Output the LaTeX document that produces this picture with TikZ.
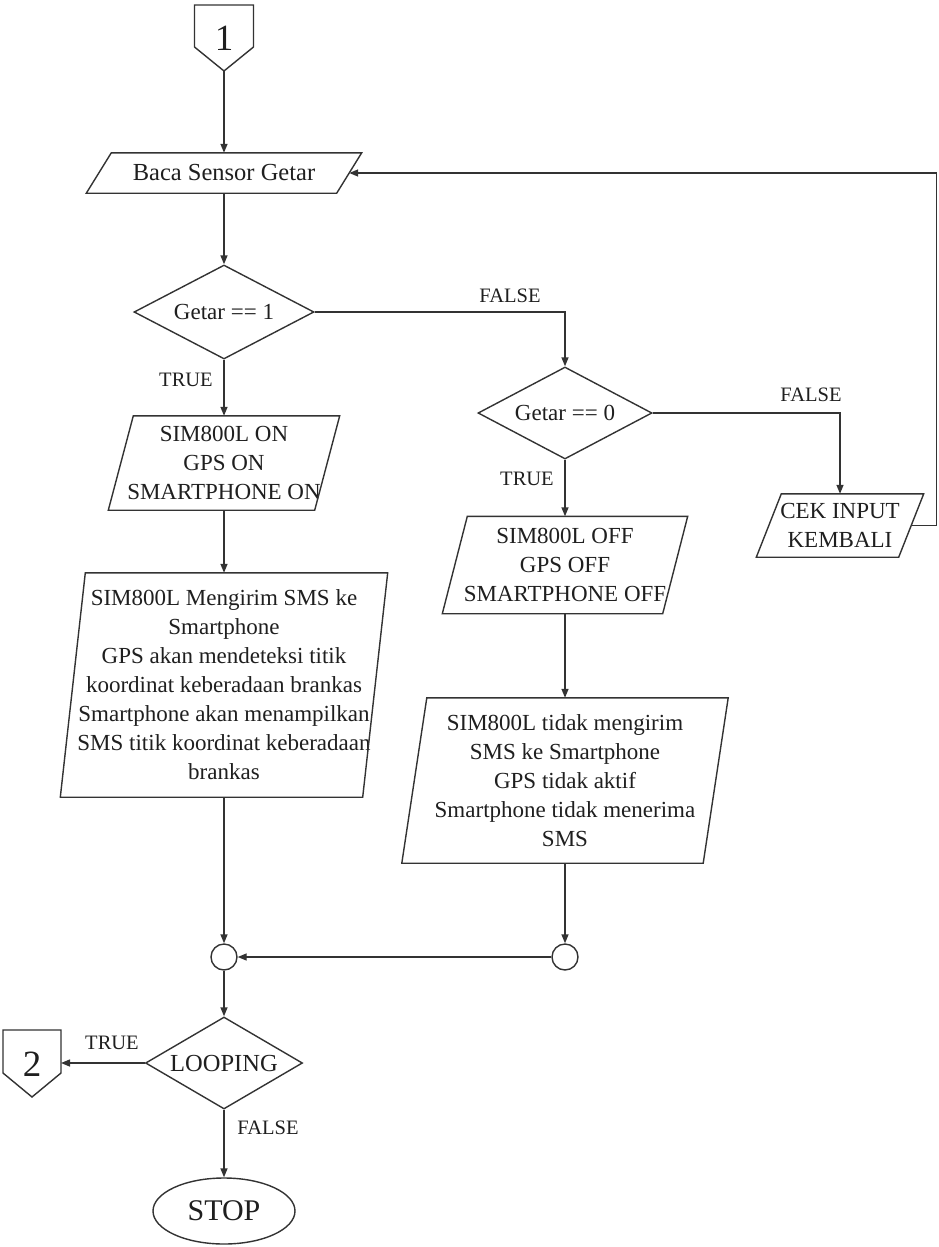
\documentclass[tikz,border=0pt]{standalone}
\usepackage{fontspec}
\setmainfont{Liberation Serif}
\usetikzlibrary{arrows.meta,shapes.geometric}

% outline of an input/output parallelogram laid over a plain box node
\newcommand{\ioframe}[1]{%
  \draw[line] ([xshift=12.5pt]#1.north west) -- ([xshift=12.5pt]#1.north east)
    -- ([xshift=-12.5pt]#1.south east) -- ([xshift=-12.5pt]#1.south west) -- cycle;}

\begin{document}
\begin{tikzpicture}[x=1pt,y=-1pt,
  line/.style={draw=black!80, line width=1.4pt},
  arrow/.style={line, -{Triangle[length=9pt,width=7pt]}},
  body/.style={font=\fontsize{23}{29}\selectfont, align=center, text=black!88},
  big/.style={font=\fontsize{24.5}{29}\selectfont, align=center, text=black!88},
  iobox/.style={body, draw=none, inner sep=0pt},
  decision/.style={body, diamond, draw=black!80, line width=1.4pt, inner sep=0pt},
  lbl/.style={font=\fontsize{20.5}{24}\selectfont, text=black!88},
  junction/.style={circle, draw=black!80, line width=1.4pt, minimum size=26pt, inner sep=0pt},
  terminal/.style={ellipse, draw=black!80, line width=1.4pt, inner sep=0pt,
    font=\fontsize{30}{34}\selectfont, text=black!88},
  offpage/.style={font=\fontsize{37}{40}\selectfont, text=black!88, inner sep=0pt},
]
\fill[white] (0,0) rectangle (938,1247);
\useasboundingbox (0,0) rectangle (938,1247);

% off-page connector 1
\draw[line] (194.5,5) -- (253.5,5) -- (253.5,47) -- (224,71) -- (194.5,47) -- cycle;
\node[offpage] (c1) at (224,38) {1};
\coordinate (c1tip) at (224,71);

% off-page connector 2
\draw[line] (3,1030) -- (61,1030) -- (61,1073) -- (32,1097) -- (3,1073) -- cycle;
\node[offpage] (c2) at (32,1064) {2};
\coordinate (c2in) at (61,1063);

% input / output boxes
\node[iobox, big, minimum width=250pt, minimum height=40pt] (baca) at (224,173) {Baca Sensor Getar};
\node[iobox, minimum width=206pt, minimum height=94pt] (on) at (224,463)
  {SIM800L ON\\GPS ON\\SMARTPHONE ON};
\node[iobox, minimum width=302pt, minimum height=224pt] (kirim) at (224,685)
  {SIM800L Mengirim SMS ke\\Smartphone\\GPS akan mendeteksi titik\\koordinat keberadaan brankas\\Smartphone akan menampilkan\\SMS titik koordinat keberadaan\\brankas};
\node[iobox, minimum width=220pt, minimum height=97pt] (off) at (565,565)
  {SIM800L OFF\\GPS OFF\\SMARTPHONE OFF};
\node[iobox, minimum width=301pt, minimum height=165pt] (tidak) at (565,780.5)
  {SIM800L tidak mengirim\\SMS ke Smartphone\\GPS tidak aktif\\Smartphone tidak menerima\\SMS};
\node[iobox, minimum width=142pt, minimum height=63pt] (cek) at (840,525.5)
  {CEK INPUT\\KEMBALI};
\foreach \b in {baca,on,kirim,off,tidak,cek} {\ioframe{\b}}

% decisions
\node[decision, shape aspect=1.915, minimum width=180pt, minimum height=94pt] (d1) at (224,312) {Getar == 1};
\node[decision, shape aspect=1.891, minimum width=174pt, minimum height=92pt] (d2) at (565,413) {Getar == 0};
\node[decision, big, shape aspect=1.707, minimum width=157pt, minimum height=92pt] (loop) at (224,1063) {LOOPING};

% junctions and terminal
\node[junction] (j1) at (224,957) {};
\node[junction] (j2) at (565,957) {};
\node[terminal, minimum width=142pt, minimum height=66pt] (stop) at (224,1211) {STOP};

% connectors
\draw[arrow] (c1tip) -- (baca.north);
\draw[arrow] (baca.south) -- (d1.north);
\draw[arrow] (d1.south) -- (on.north);
\draw[arrow] (on.south) -- (kirim.north);
\draw[arrow] (kirim.south) -- (j1.north);
\draw[arrow] (d1.east) -| (d2.north);
\draw[arrow] (d2.south) -- (off.north);
\draw[arrow] (off.south) -- (tidak.north);
\draw[arrow] (tidak.south) -- (j2.north);
\draw[arrow] (d2.east) -| (cek.north);
\draw[arrow] (cek.east) -- ++(25,0) |- (baca.east);
\draw[arrow] (j2.west) -- (j1.east);
\draw[arrow] (j1.south) -- (loop.north);
\draw[arrow] (loop.west) -- (c2in);
\draw[arrow] (loop.south) -- (stop.north);

% branch labels
\node[lbl] (t1) at (186,380) {TRUE};
\node[lbl] (f1) at (510,296) {FALSE};
\node[lbl] (t2) at (527,479) {TRUE};
\node[lbl] (f2) at (811,395) {FALSE};
\node[lbl] (t3) at (112,1043) {TRUE};
\node[lbl] (f3) at (268,1128) {FALSE};
\end{tikzpicture}
\end{document}
